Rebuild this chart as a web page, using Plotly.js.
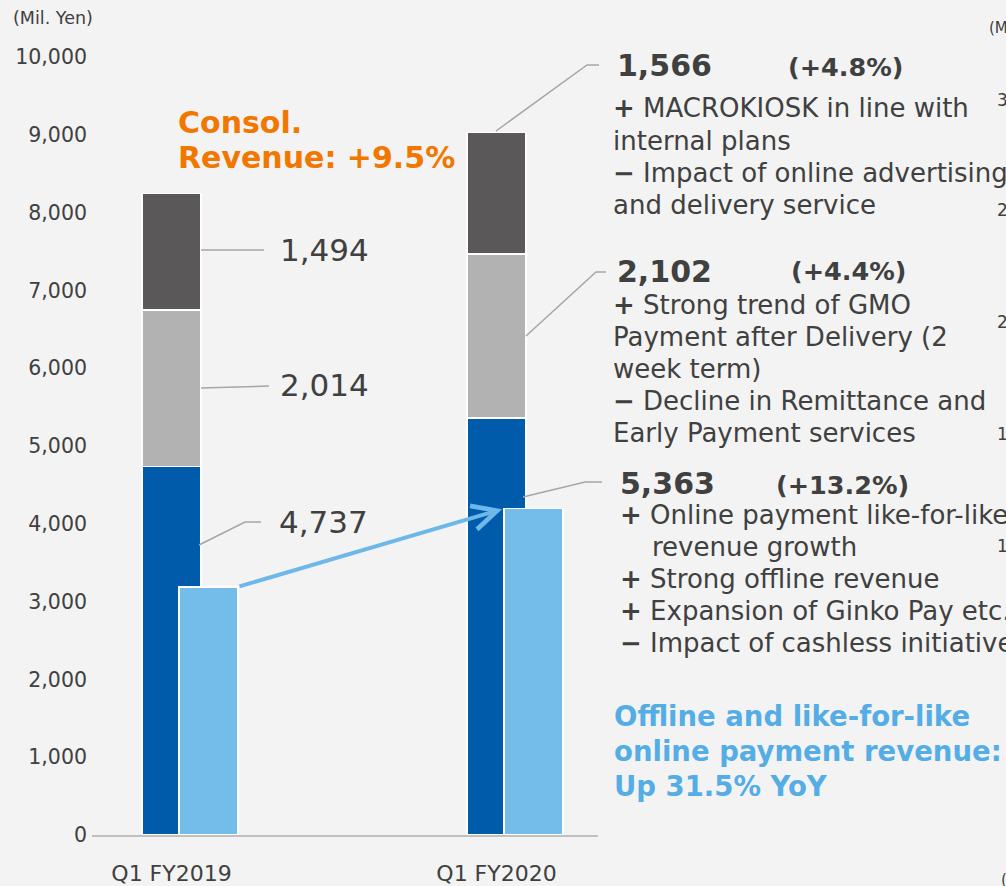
<!DOCTYPE html>
<html>
<head>
<meta charset="utf-8">
<script src="https://cdn.plot.ly/plotly-3.0.1.min.js"></script>
<style>html,body{margin:0;padding:0;background:#f2f3f2;}#chart{width:1006px;height:886px;}</style>
</head>
<body>
<div id="chart"></div>
<script>
// ---- data ----
const categories = ['Q1 FY2019', 'Q1 FY2020'];
const catPos = [0, 1];
const paymentSeg = [4737, 5363];     // blue (bottom)
const financeSeg = [2014, 2102];     // light gray (middle)
const otherSeg   = [1494, 1566];     // dark gray (top)
const likeForLike = [3190, 4195];    // light blue bars
const yTicks = [0, 1000, 2000, 3000, 4000, 5000, 6000, 7000, 8000, 9000, 10000];

// ---- layout helpers ----
const L = 92, R = 598, T = 57, B = 835;
const W = R - L, H = B - T;
const px = x => (x - L) / W;
const py = y => (B - y) / H;
const fmt = v => v.toLocaleString('en-US');
const FONT = 'DejaVu Sans, Verdana, sans-serif';
const TXT = '#404040';

const stackW = 0.1815, stackOff = -0.0908, lightOff = 0.0231;

const barLine = {color: '#ffffff', width: 1.5};
const traces = [
  {type: 'bar', x: catPos, y: paymentSeg, marker: {color: '#005bab', line: barLine}, width: stackW, offset: stackOff, hoverinfo: 'skip'},
  {type: 'bar', x: catPos, y: financeSeg, marker: {color: '#b2b2b2', line: barLine}, width: stackW, offset: stackOff, hoverinfo: 'skip'},
  {type: 'bar', x: catPos, y: otherSeg, marker: {color: '#5a5858', line: barLine}, width: stackW, offset: stackOff, hoverinfo: 'skip'},
  {type: 'bar', x: catPos, y: likeForLike, yaxis: 'y2', marker: {color: '#74bce9', line: barLine}, width: stackW, offset: lightOff, hoverinfo: 'skip'}
];

function txt(text, x, y, size, opts) {
  opts = opts || {};
  return {
    xref: 'paper', yref: 'paper', x: px(x), y: py(y), xanchor: opts.xanchor || 'left', yanchor: 'middle',
    text: text, showarrow: false, align: 'left',
    font: {family: FONT, size: size, color: opts.color || TXT}
  };
}

const annotations = [
  txt('(Mil. Yen)', 11, 18, 17.5),
  txt('<b>Consol.</b>', 176, 122, 30, {color: '#f27700'}),
  txt('<b>Revenue: +9.5%</b>', 176, 157, 30, {color: '#f27700'}),
  txt(fmt(otherSeg[0]), 278, 250, 31),
  txt(fmt(financeSeg[0]), 278, 385, 31),
  txt(fmt(paymentSeg[0]), 277, 522, 31),
  // block 1
  txt('<b>' + fmt(otherSeg[1]) + '</b>', 615, 65, 30),
  txt('<b>(+4.8%)</b>', 786, 67, 25.5),
  txt('<b>+</b> MACROKIOSK in line with', 611, 108, 26),
  txt('internal plans', 611, 141, 26),
  txt('<b>−</b> Impact of online advertising', 611, 173, 26),
  txt('and delivery service', 611, 205, 26),
  // block 2
  txt('<b>' + fmt(financeSeg[1]) + '</b>', 615, 271, 30),
  txt('<b>(+4.4%)</b>', 789, 271, 25.5),
  txt('<b>+</b> Strong trend of GMO', 611, 305, 26),
  txt('Payment after Delivery (2', 611, 337, 26),
  txt('week term)', 611, 369, 26),
  txt('<b>−</b> Decline in Remittance and', 611, 401, 26),
  txt('Early Payment services', 611, 433, 26),
  // block 3
  txt('<b>' + fmt(paymentSeg[1]) + '</b>', 618, 483, 30),
  txt('<b>(+13.2%)</b>', 774, 485, 25.5),
  txt('<b>+</b> Online payment like-for-like', 618, 515, 26),
  txt('revenue growth', 650, 547, 26),
  txt('<b>+</b> Strong offline revenue', 618, 579, 26),
  txt('<b>+</b> Expansion of Ginko Pay etc.', 618, 611, 26),
  txt('<b>−</b> Impact of cashless initiatives', 618, 643, 26),
  // block 4
  txt('<b>Offline and like-for-like</b>', 612, 716, 27.5, {color: '#55ade6'}),
  txt('<b>online payment revenue:</b>', 612, 751, 27.5, {color: '#55ade6'}),
  txt('<b>Up 31.5% YoY</b>', 612, 786, 27.5, {color: '#55ade6'}),
  // cut-off fragments of neighbouring chart
  txt('(M', 987, 28, 15),
  txt('3', 995, 100, 17),
  txt('2', 995, 210, 17),
  txt('2', 995, 322, 17),
  txt('1', 995, 434, 17),
  txt('1', 995, 546, 17),
  txt('(', 999, 880, 15),
  // growth arrow between the light-blue bars
  {
    xref: 'x', yref: 'y', axref: 'x', ayref: 'y',
    x: catPos[1] + lightOff, y: likeForLike[1],
    ax: catPos[0] + lightOff + stackW, ay: likeForLike[0],
    text: '', showarrow: true, arrowhead: 5, arrowsize: 1.2, arrowwidth: 4,
    arrowcolor: '#6db8e8', standoff: 2, startstandoff: 0
  }
];

function path(pts) {
  return pts.map((p, i) => (i ? 'L' : 'M') + px(p[0]).toFixed(5) + ',' + py(p[1]).toFixed(5)).join(' ');
}
const leader = pts => ({type: 'path', xref: 'paper', yref: 'paper', path: path(pts), line: {color: '#a6a6a6', width: 1.5}});
const shapes = [
  leader([[201, 250], [264, 250]]),
  leader([[201, 388], [269, 386]]),
  leader([[199, 545], [245, 522], [261, 522]]),
  leader([[496, 131], [587, 65], [599, 65]]),
  leader([[526, 336], [596, 272], [606, 272]]),
  leader([[523, 497], [585, 482], [602, 482]])
];

const layout = {
  width: 1006, height: 886,
  margin: {l: L, r: 1006 - R, t: T, b: 886 - B, pad: 0},
  paper_bgcolor: '#f2f3f2', plot_bgcolor: '#f2f3f2',
  barmode: 'stack', showlegend: false,
  font: {family: FONT, color: TXT},
  xaxis: {
    range: [(L - 171.5) / 325, (R - 171.5) / 325], tickvals: catPos, ticktext: categories,
    showline: true, linecolor: '#c0c0c0', linewidth: 1.5, showgrid: false, zeroline: false,
    ticks: '', tickfont: {family: FONT, size: 22, color: TXT}, ticklabelstandoff: 18, fixedrange: true
  },
  yaxis: {
    range: [0, 10000], tickvals: yTicks, ticktext: yTicks.map(fmt),
    showline: false, showgrid: false, zeroline: false, ticks: '',
    tickfont: {family: FONT, size: 20.5, color: TXT}, ticklabelstandoff: 4, fixedrange: true
  },
  yaxis2: {overlaying: 'y', range: [0, 10000], visible: false, fixedrange: true},
  annotations: annotations,
  shapes: shapes
};

Plotly.newPlot('chart', traces, layout, {staticPlot: true, displayModeBar: false});
</script>
</body>
</html>
